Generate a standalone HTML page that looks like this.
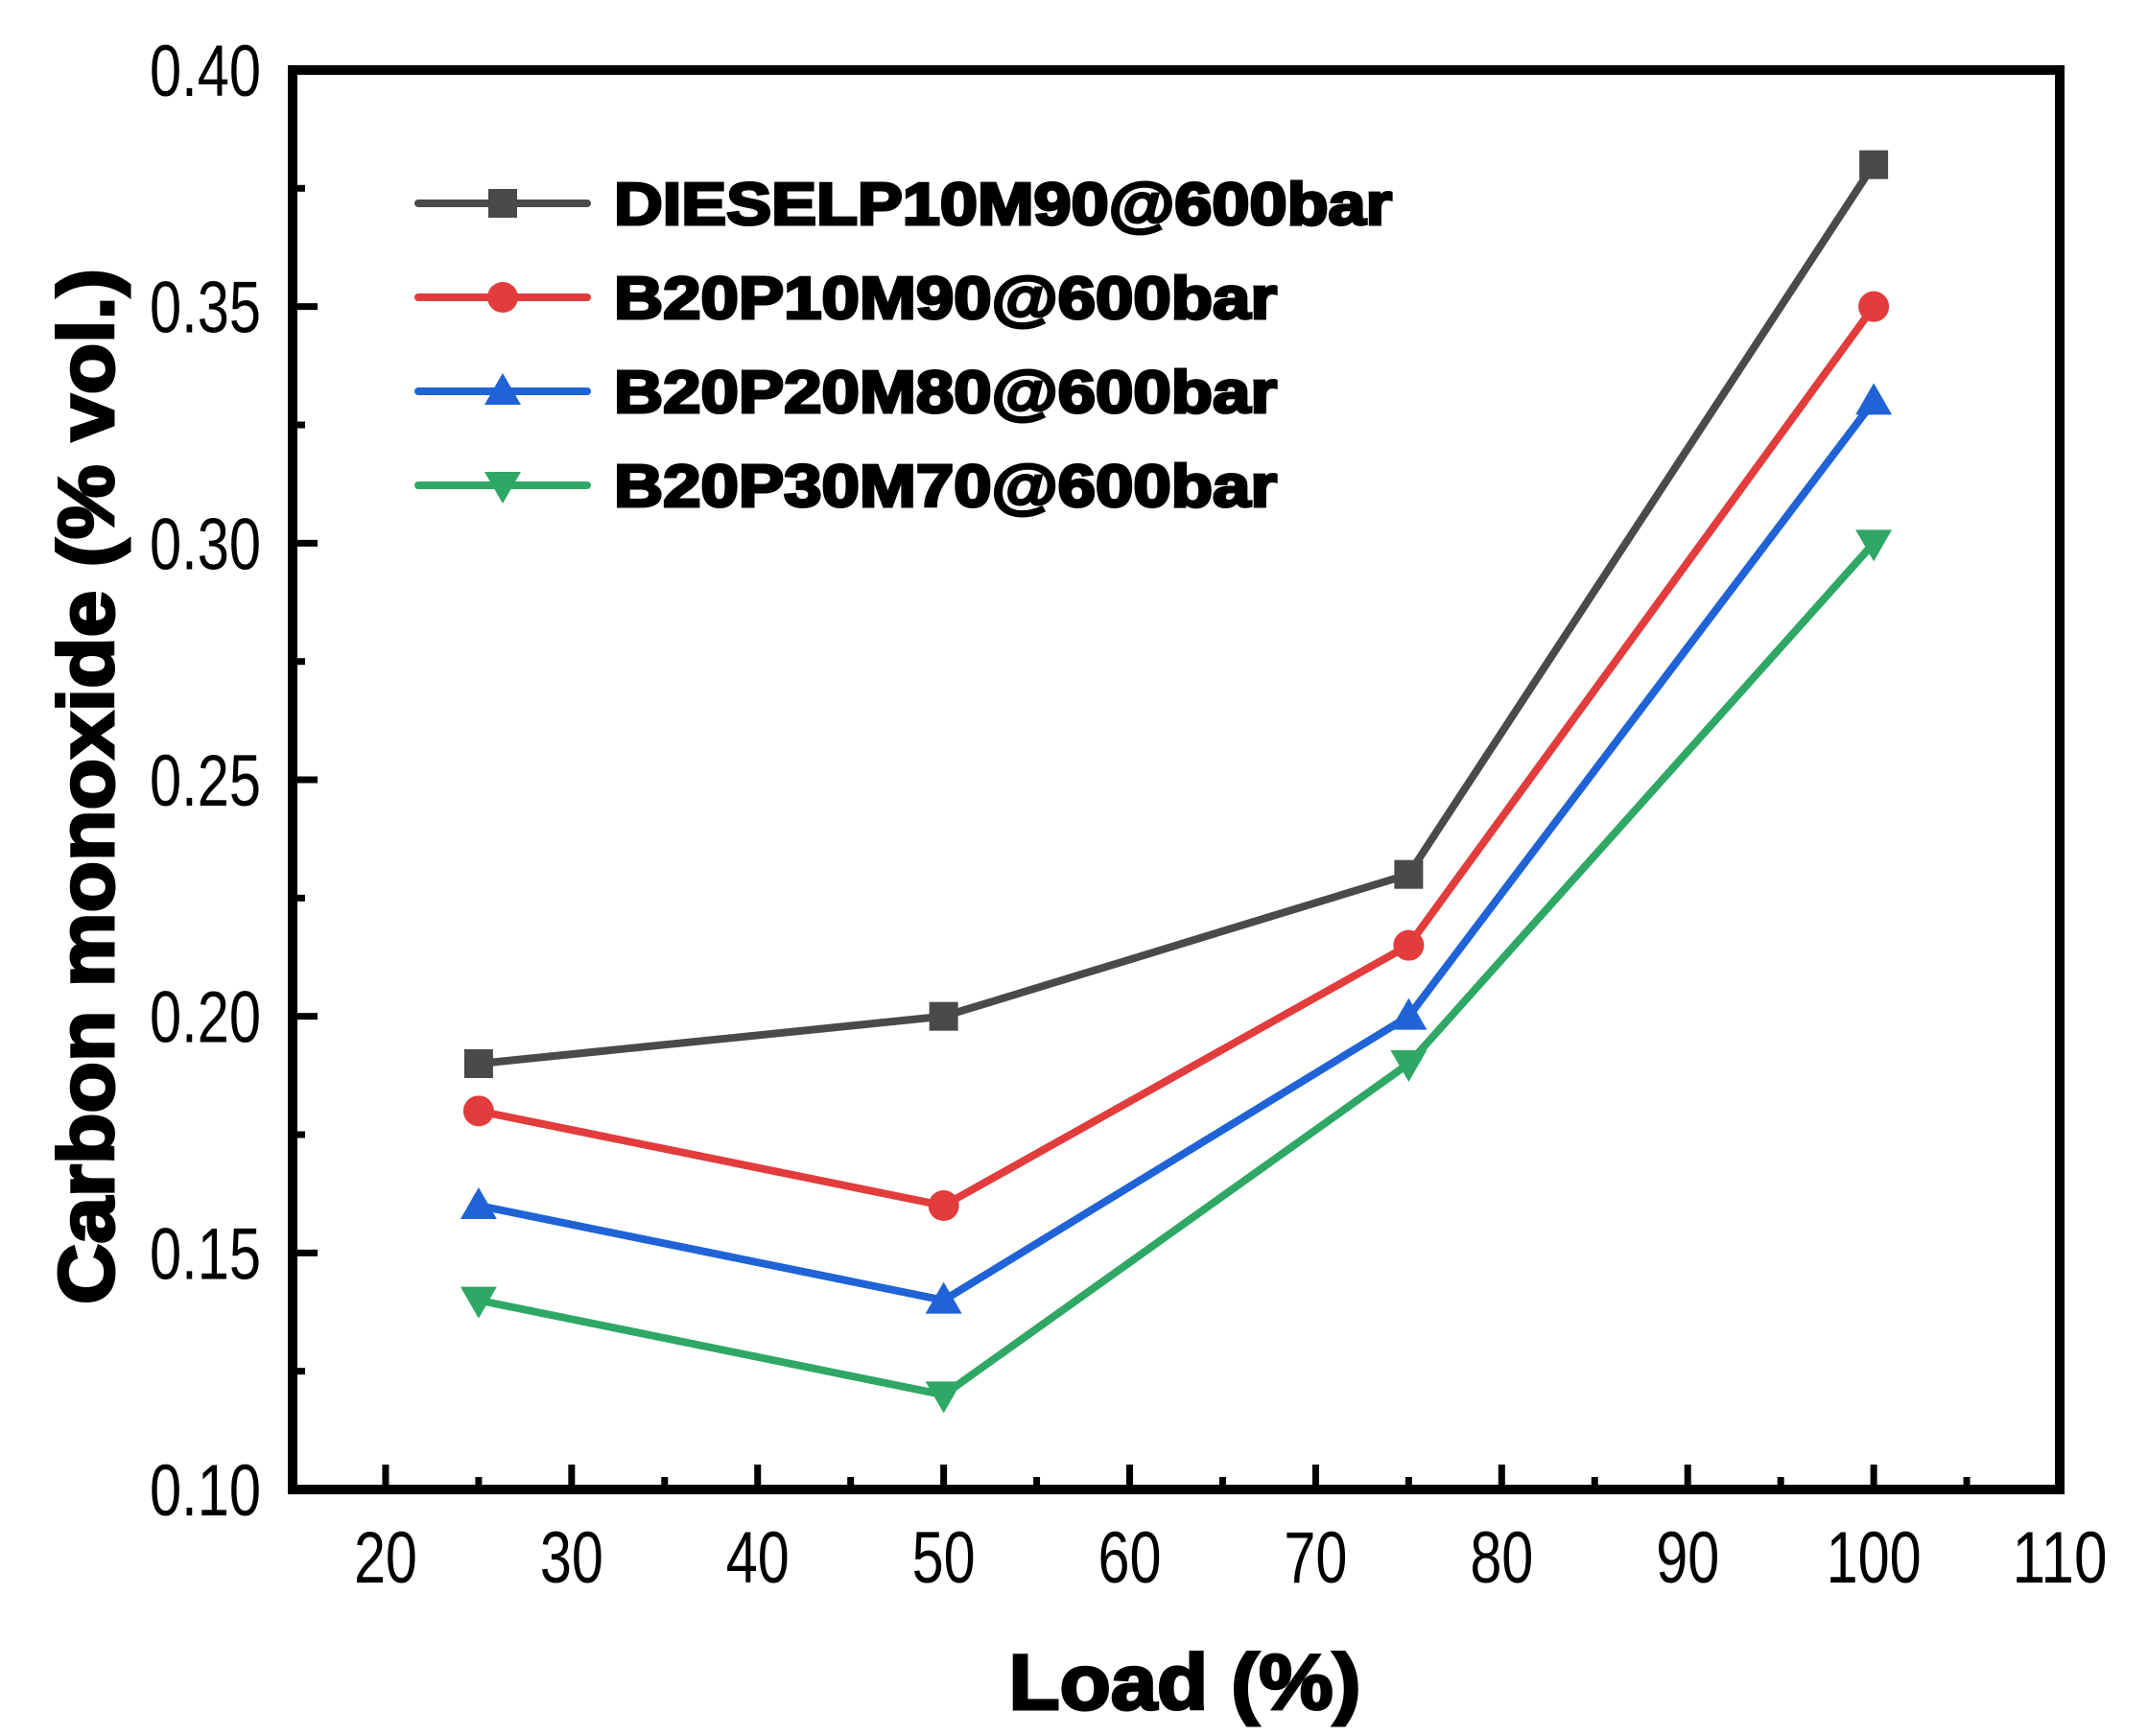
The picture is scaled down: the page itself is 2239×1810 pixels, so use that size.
<!DOCTYPE html>
<html>
<head>
<meta charset="utf-8">
<style>
  html, body { margin: 0; padding: 0; background: #fff; }
  svg { display: block; }
  text { font-family: "Liberation Sans", Arial, sans-serif; }
</style>
</head>
<body>
<svg id="chart" width="2239" height="1810" viewBox="0 0 2239 1810" xmlns="http://www.w3.org/2000/svg">
  <g id="grid-layer"></g>
  <g id="series-layer"></g>
  <g id="legend-layer"></g>
  <text x="0" y="0" transform="translate(118,820) rotate(-90)" text-anchor="middle" font-size="82" font-weight="bold" fill="#000" stroke="#000" stroke-width="3" textLength="1080" lengthAdjust="spacingAndGlyphs">Carbon monoxide (% vol.)</text>
  <text x="1235" y="1782" text-anchor="middle" font-size="82" font-weight="bold" fill="#000" stroke="#000" stroke-width="3" textLength="367" lengthAdjust="spacingAndGlyphs">Load (%)</text>
</svg>
<script>
const categories = [25, 50, 75, 100];
const seriesNames = ["DIESELP10M90@600bar", "B20P10M90@600bar", "B20P20M80@600bar", "B20P30M70@600bar"];
const dieselValues = [0.19, 0.20, 0.23, 0.38];
const b20p10Values = [0.18, 0.16, 0.215, 0.35];
const b20p20Values = [0.16, 0.14, 0.20, 0.33];
const b20p30Values = [0.14, 0.12, 0.19, 0.30];
const xTickLabels = ["20", "30", "40", "50", "60", "70", "80", "90", "100", "110"];
const yTickLabels = ["0.10", "0.15", "0.20", "0.25", "0.30", "0.35", "0.40"];

const NS = "http://www.w3.org/2000/svg";
const L = 305, R = 2147, T = 73, B = 1553;
const xMin = 15, xMax = 110, yMin = 0.10, yMax = 0.40;
function xScale(v) { return L + (v - xMin) / (xMax - xMin) * (R - L); }
function yScale(v) { return B - (v - yMin) / (yMax - yMin) * (B - T); }
function mk(tag, attrs, parent) {
  const e = document.createElementNS(NS, tag);
  for (const k in attrs) e.setAttribute(k, attrs[k]);
  parent.appendChild(e);
  return e;
}

const axes = document.getElementById("grid-layer");
const frame = mk("rect", {x: L, y: T, width: R - L, height: B - T, fill: "none", stroke: "#000", "stroke-width": 10}, axes);



xTickLabels.forEach(function (lab) {
  const v = parseFloat(lab);
  const x = xScale(v);
  const t = mk("line", {x1: x, y1: B, x2: x, y2: B - 26, stroke: "#000", "stroke-width": 7}, axes);
  
  
  const m = mk("line", {x1: xScale(v + 5), y1: B, x2: xScale(v + 5), y2: B - 13, stroke: "#000", "stroke-width": 7}, axes);
  
  
  const tx = mk("text", {x: x, y: 1650, "text-anchor": "middle", "font-size": 76, fill: "#000", textLength: lab.length * 33, lengthAdjust: "spacingAndGlyphs"}, axes);
  tx.textContent = lab;
  
  
});
yTickLabels.forEach(function (lab) {
  const v = parseFloat(lab);
  const y = yScale(v);
  const t = mk("line", {x1: L, y1: y, x2: L + 26, y2: y, stroke: "#000", "stroke-width": 7}, axes);
  
  
  if (v + 0.025 < yMax) {
    const m = mk("line", {x1: L, y1: yScale(v + 0.025), x2: L + 13, y2: yScale(v + 0.025), stroke: "#000", "stroke-width": 7}, axes);
    
    
  }
  const tx = mk("text", {x: 272, y: y + 27, "text-anchor": "end", "font-size": 76, fill: "#000", textLength: 116, lengthAdjust: "spacingAndGlyphs"}, axes);
  tx.textContent = lab;
  
  
});

const colors = ["#4a4a4a", "#e23c3c", "#1f63d6", "#2fa866"];
const markers = ["square", "circle", "triangle-up", "triangle-down"];
const allValues = [dieselValues, b20p10Values, b20p20Values, b20p30Values];

function drawMarker(type, cx, cy, color, parent) {
  const s = 15;
  let e;
  if (type === "square") e = mk("rect", {x: cx - s, y: cy - s, width: 2 * s, height: 2 * s, fill: color}, parent);
  else if (type === "circle") e = mk("circle", {cx: cx, cy: cy, r: s + 1, fill: color}, parent);
  else if (type === "triangle-up") e = mk("polygon", {points: (cx) + "," + (cy - 19) + " " + (cx + 19) + "," + (cy + 14) + " " + (cx - 19) + "," + (cy + 14), fill: color}, parent);
  else e = mk("polygon", {points: (cx) + "," + (cy + 19) + " " + (cx + 19) + "," + (cy - 14) + " " + (cx - 19) + "," + (cy - 14), fill: color}, parent);
  return e;
}

const sl = document.getElementById("series-layer");
allValues.forEach(function (vals, i) {
  const g = mk("g", {}, sl);
  
  
  const pts = vals.map(function (v, j) { return xScale(categories[j]) + "," + yScale(v); }).join(" ");
  const pl = mk("polyline", {points: pts, fill: "none", stroke: colors[i], "stroke-width": 8, "stroke-linejoin": "round"}, g);
  
  
  vals.forEach(function (v, j) {
    const m = drawMarker(markers[i], xScale(categories[j]), yScale(v), colors[i], g);
    
    
  });
});

const lg = document.getElementById("legend-layer");
const legendY = [212, 310, 408, 506];
const legendWidths = [811, 691, 691, 691];
seriesNames.forEach(function (name, i) {
  const g = mk("g", {}, lg);
  
  
  mk("line", {x1: 436, y1: legendY[i], x2: 612, y2: legendY[i], stroke: colors[i], "stroke-width": 8, "stroke-linecap": "round"}, g);
  drawMarker(markers[i], 524, legendY[i], colors[i], g);
  const t = mk("text", {x: 640, y: legendY[i] + 22, "font-size": 62, "font-weight": "bold", fill: "#000", stroke: "#000", "stroke-width": 3, textLength: legendWidths[i], lengthAdjust: "spacingAndGlyphs"}, g);
  t.textContent = name;
  
  
});
</script>
</body>
</html>
